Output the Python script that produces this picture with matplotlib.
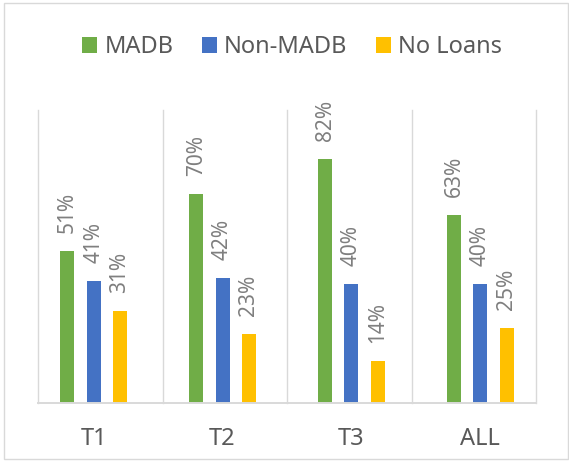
import numpy as np
import matplotlib
matplotlib.use("Agg")
import matplotlib.pyplot as plt
from matplotlib.patches import Rectangle

plt.rcParams["font.family"] = ["Noto Sans", "DejaVu Sans"]

categories = ["T1", "T2", "T3", "ALL"]
series = ["MADB", "Non-MADB", "No Loans"]
madb = [0.51, 0.70, 0.82, 0.63]
non_madb = [0.41, 0.42, 0.40, 0.40]
no_loans = [0.31, 0.23, 0.14, 0.25]
colors = ["#70AD47", "#4472C4", "#FFC000"]

GRID = "#D9D9D9"

fig = plt.figure(figsize=(5.69, 4.61), dpi=100)
ax = fig.add_axes([38 / 569, 58 / 461, 498 / 569, 293 / 461])

x = np.arange(len(categories))
width = 0.109
step = 0.204
for i, (name, vals, col) in enumerate(zip(series, [madb, non_madb, no_loans], colors)):
    pos = x + (i - 1) * step
    ax.bar(pos, vals, width, color=col, label=name, zorder=3)
    for px, v in zip(pos, vals):
        ax.annotate(f"{v:.0%}", (px, v), xytext=(0, 13), textcoords="offset points",
                    rotation=90, ha="center", va="bottom", fontsize=15, color="#7F7F7F")

ax.set_xlim(-0.432, 3.432)
ax.set_ylim(0, 0.983)

# category separators, like Excel's vertical gridlines
for f in [0, 0.25, 0.5, 0.75, 1.0]:
    ax.plot([f, f], [0, 1], transform=ax.transAxes, color=GRID, lw=1.0,
            zorder=1, clip_on=False)

for s in ["top", "left", "right"]:
    ax.spines[s].set_visible(False)
ax.spines["bottom"].set_color(GRID)
ax.spines["bottom"].set_linewidth(1.4)
ax.spines["bottom"].set_zorder(4)

ax.set_yticks([])
ax.set_xticks(x)
ax.set_xticklabels(categories, fontsize=17, color="#595959")
ax.tick_params(axis="x", length=0, pad=17)

fig.legend(loc="center", bbox_to_anchor=(292 / 569, 1 - 47 / 461), ncol=3, frameon=False,
           fontsize=17, labelcolor="#595959", handlelength=0.65, handleheight=0.65,
           handletextpad=0.3, columnspacing=1.2)

# light frame round the whole chart
fig.patches.append(Rectangle((3.5 / 569, 2 / 461), 564 / 569, 455.5 / 461,
                             transform=fig.transFigure, fill=False, edgecolor=GRID, lw=1.0))

fig.savefig("out.png", dpi=100)
